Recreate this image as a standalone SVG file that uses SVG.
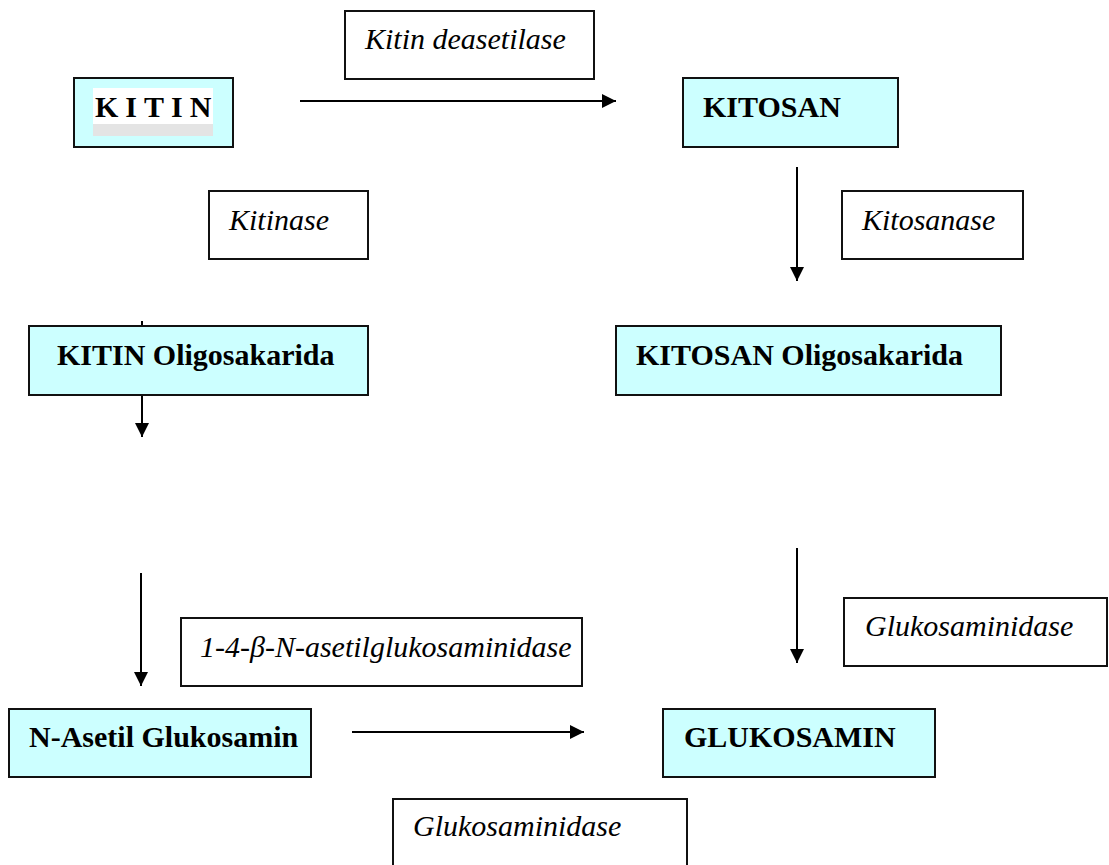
<svg xmlns="http://www.w3.org/2000/svg" width="1109" height="865" viewBox="0 0 1109 865">
<style>
.node{fill:#CCFFFF;stroke:#111;stroke-width:2}
.lbl{fill:#fff;stroke:#111;stroke-width:2}
.bt{font-family:"Liberation Serif","Times New Roman",serif;font-weight:bold;font-size:30px;fill:#000}
.it{font-family:"Liberation Serif","Times New Roman",serif;font-style:italic;font-size:30px;fill:#000}
.c{stroke:#000;stroke-width:2;fill:none}
</style>
<defs>
<marker id="ah" markerWidth="14" markerHeight="14" refX="14" refY="7" orient="auto" markerUnits="userSpaceOnUse">
<path d="M0,0 L14,7 L0,14 Z" fill="#000"/>
</marker>
</defs>
<rect width="1109" height="865" fill="#fff"/>
<g id="connectors">
<line class="c" x1="300" y1="101" x2="616" y2="101" marker-end="url(#ah)"/>
<line class="c" x1="797" y1="167" x2="797" y2="281" marker-end="url(#ah)"/>
<line class="c" x1="142" y1="321" x2="142" y2="326"/>
<line class="c" x1="142" y1="395" x2="142" y2="437" marker-end="url(#ah)"/>
<line class="c" x1="141" y1="573" x2="141" y2="686" marker-end="url(#ah)"/>
<line class="c" x1="797" y1="548" x2="797" y2="663" marker-end="url(#ah)"/>
<line class="c" x1="352" y1="732" x2="584" y2="732" marker-end="url(#ah)"/>
</g>
<g id="kitin">
<rect class="node" x="74" y="78" width="159" height="69"/>
<rect x="93" y="88" width="120" height="36" fill="#fff"/>
<rect x="93" y="124" width="120" height="12" fill="#e4e4e4"/>
<text class="bt" x="95" y="117" letter-spacing="7">KITIN</text>
</g>
<g id="kitin-deasetilase">
<rect class="lbl" x="345" y="11" width="249" height="68"/>
<text class="it" x="365" y="49">Kitin deasetilase</text>
</g>
<g id="kitosan">
<rect class="node" x="683" y="78" width="215" height="69"/>
<text class="bt" x="703" y="117">KITOSAN</text>
</g>
<g id="kitinase">
<rect class="lbl" x="209" y="191" width="159" height="68"/>
<text class="it" x="229" y="230">Kitinase</text>
</g>
<g id="kitosanase">
<rect class="lbl" x="842" y="191" width="181" height="68"/>
<text class="it" x="862" y="230">Kitosanase</text>
</g>
<g id="kitin-oligosakarida">
<rect class="node" x="29" y="326" width="339" height="69"/>
<text class="bt" x="57" y="365">KITIN Oligosakarida</text>
</g>
<g id="kitosan-oligosakarida">
<rect class="node" x="616" y="326" width="385" height="69"/>
<text class="bt" x="636" y="365">KITOSAN Oligosakarida</text>
</g>
<g id="asetilglukosaminidase">
<rect class="lbl" x="181" y="618" width="401" height="68"/>
<text class="it" x="200" y="657">1-4-β-N-asetilglukosaminidase</text>
</g>
<g id="glukosaminidase-right">
<rect class="lbl" x="844" y="598" width="263" height="68"/>
<text class="it" x="865" y="636">Glukosaminidase</text>
</g>
<g id="n-asetil-glukosamin">
<rect class="node" x="9" y="709" width="302" height="68"/>
<text class="bt" x="29" y="747">N-Asetil Glukosamin</text>
</g>
<g id="glukosamin">
<rect class="node" x="663" y="709" width="272" height="68"/>
<text class="bt" x="684" y="747">GLUKOSAMIN</text>
</g>
<g id="glukosaminidase-bottom">
<path class="lbl" d="M393,866 L393,799 L687,799 L687,866"/>
<text class="it" x="413" y="836">Glukosaminidase</text>
</g>
</svg>
